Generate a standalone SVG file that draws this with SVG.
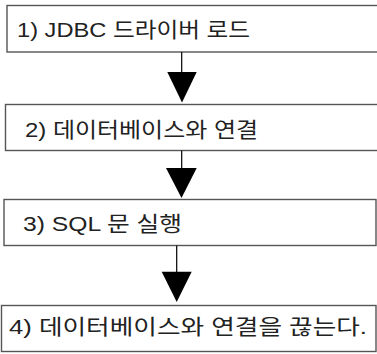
<svg xmlns="http://www.w3.org/2000/svg" width="377" height="354" viewBox="0 0 377 354">
<style>
.box{fill:#fff;stroke:#555;stroke-width:1.4}
.lbl{font-family:"Liberation Sans","Noto Sans CJK KR",sans-serif;font-size:21px;fill:#222}
.ln{stroke:#000;stroke-width:1.2}
.hd{fill:#000}
</style>
<rect width="377" height="354" fill="#fff"/>
<g id="node1"><rect class="box" x="7" y="5.5" width="380" height="46.5"/><text class="lbl" x="17" y="37" textLength="233" lengthAdjust="spacingAndGlyphs">1) JDBC 드라이버 로드</text></g>
<g id="node2"><rect class="box" x="5.5" y="104.5" width="380" height="46"/><text class="lbl" x="25" y="137" textLength="233" lengthAdjust="spacingAndGlyphs">2) 데이터베이스와 연결</text></g>
<g id="node3"><rect class="box" x="4" y="199.5" width="372" height="46"/><text class="lbl" x="23" y="231" textLength="159" lengthAdjust="spacingAndGlyphs">3) SQL 문 실행</text></g>
<g id="node4"><rect class="box" x="1.5" y="305.5" width="374.5" height="46"/><text class="lbl" x="9" y="334" textLength="358" lengthAdjust="spacingAndGlyphs">4)  데이터베이스와  연결을  끊는다.</text></g>
<g id="connectors">
<line class="ln" x1="181.7" y1="52" x2="181.7" y2="73"/><polygon class="hd" points="167.3,72 196.7,72 182,102.5"/>
<line class="ln" x1="181.7" y1="150.5" x2="181.7" y2="169"/><polygon class="hd" points="166,168 196.7,168 181.5,198"/>
<line class="ln" x1="176.7" y1="245.5" x2="176.7" y2="272"/><polygon class="hd" points="161.7,271.7 191.7,271.7 176.7,302"/>
</g>
</svg>
